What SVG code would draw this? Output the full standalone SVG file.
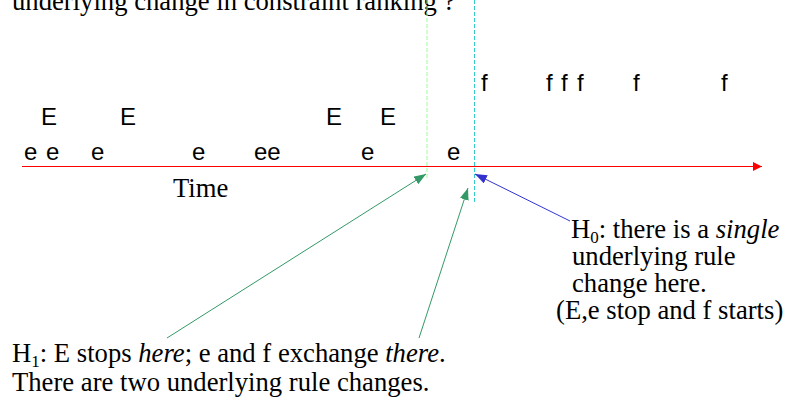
<svg xmlns="http://www.w3.org/2000/svg" width="791" height="402" viewBox="0 0 791 402">
<style>
.serif{font-family:"Liberation Serif","Times New Roman",serif;font-size:26.67px;fill:#000}
.sans{font-family:"Liberation Sans",Arial,sans-serif;font-size:24px;fill:#000}
.it{font-style:italic}
.sub{font-size:17px}
</style>
<defs>
<marker id="ahRed" markerUnits="userSpaceOnUse" markerWidth="10" markerHeight="10" refX="9" refY="4.5" orient="auto"><path d="M0,0 L9,4.5 L0,9 Z" fill="#ff0000"/></marker>
<marker id="ahGreen" markerUnits="userSpaceOnUse" markerWidth="14" markerHeight="12" refX="12" refY="4.5" orient="auto"><path d="M0,0 L12,4.5 L0,9 Z" fill="#339966"/></marker>
<marker id="ahBlue" markerUnits="userSpaceOnUse" markerWidth="14" markerHeight="12" refX="12" refY="4.5" orient="auto"><path d="M0,0 L12,4.5 L0,9 Z" fill="#3333cc"/></marker>
</defs>
<rect width="791" height="402" fill="#ffffff"/>

<g id="title"><text class="serif" x="12" y="10">underlying change in constraint ranking ?</text></g>

<g id="guides">
<line x1="427" y1="0" x2="427" y2="180" stroke="#99ff99" stroke-width="1" stroke-dasharray="4,2"/>
<line x1="474.5" y1="0" x2="474.5" y2="202" stroke="#33cccc" stroke-width="1" stroke-dasharray="4,2"/>
</g>

<g id="tokens-f">
<text class="sans" x="481" y="91">f</text>
<text class="sans" x="546" y="91">f</text>
<text class="sans" x="561" y="91">f</text>
<text class="sans" x="577" y="91">f</text>
<text class="sans" x="633" y="91">f</text>
<text class="sans" x="721" y="91">f</text>
</g>
<g id="tokens-E">
<text class="sans" x="41" y="125">E</text>
<text class="sans" x="120" y="125">E</text>
<text class="sans" x="326" y="125">E</text>
<text class="sans" x="380" y="125">E</text>
</g>
<g id="tokens-e">
<text class="sans" x="24" y="160">e</text>
<text class="sans" x="46" y="160">e</text>
<text class="sans" x="91" y="160">e</text>
<text class="sans" x="192" y="160">e</text>
<text class="sans" x="254" y="160">ee</text>
<text class="sans" x="361" y="160">e</text>
<text class="sans" x="447" y="160">e</text>
</g>

<g id="connectors">
<line x1="22" y1="166.5" x2="762" y2="166.5" stroke="#ff0000" stroke-width="1" marker-end="url(#ahRed)"/>
<line x1="167" y1="338" x2="426" y2="174" stroke="#339966" stroke-width="1" marker-end="url(#ahGreen)"/>
<line x1="419" y1="338" x2="468" y2="188" stroke="#339966" stroke-width="1" marker-end="url(#ahGreen)"/>
<line x1="570" y1="221" x2="475" y2="174" stroke="#3333cc" stroke-width="1" marker-end="url(#ahBlue)"/>
</g>

<g id="time-label"><text class="serif" x="173" y="197">Time</text></g>

<g id="h0">
<text class="serif" x="571" y="238">H<tspan class="sub" dy="5">0</tspan><tspan dy="-5">: there is a </tspan><tspan class="it">single</tspan></text>
<text class="serif" x="572" y="265">underlying rule</text>
<text class="serif" x="572" y="292">change here.</text>
<text class="serif" x="556" y="319">(E,e stop and f starts)</text>
</g>

<g id="h1">
<text class="serif" x="12" y="362">H<tspan class="sub" dy="5">1</tspan><tspan dy="-5">: E stops </tspan><tspan class="it">here</tspan>; e and f exchange <tspan class="it">there</tspan>.</text>
<text class="serif" x="12" y="391">There are two underlying rule changes.</text>
</g>
</svg>
